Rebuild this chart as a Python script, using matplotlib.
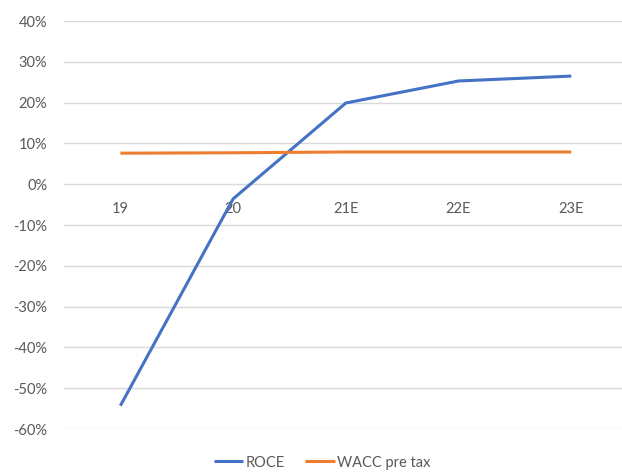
import matplotlib.pyplot as plt
from matplotlib.ticker import PercentFormatter

# ROCE vs. WACC (pre tax), % by year
years = ['19', '20', '21E', '22E', '23E']
roce = [-54.3, -3.6, 19.9, 25.3, 26.5]
wacc = [7.6, 7.7, 7.9, 7.9, 7.9]

plt.rcParams['font.family'] = ['Lato', 'DejaVu Sans']
plt.rcParams['axes.unicode_minus'] = False
text_color = '#595959'

fig = plt.figure(figsize=(6.22, 4.72), dpi=100)
ax = fig.add_axes([64 / 622, 43 / 472, 558 / 622, 408 / 472])

x = range(len(years))
ax.plot(x, roce, color='#4472C4', linewidth=2.2, label='ROCE',
        solid_capstyle='butt', solid_joinstyle='miter')
ax.plot(x, wacc, color='#ED7D31', linewidth=2.2, label='WACC pre tax',
        solid_capstyle='butt')

ax.set_ylim(-60, 40)
ax.set_xlim(-0.5, 4.45)
ax.set_yticks(range(-60, 41, 10))
ax.yaxis.set_major_formatter(PercentFormatter(decimals=0))
ax.grid(axis='y', color='#d9d9d9', linewidth=1)
ax.set_axisbelow(True)

# category labels sit next to the zero line
ax.spines['bottom'].set_position(('data', 0))
for side in ['top', 'right', 'left', 'bottom']:
    ax.spines[side].set_visible(False)
ax.set_xticks(list(x))
ax.set_xticklabels(years)
ax.tick_params(axis='x', length=0, pad=13, labelsize=10.5, labelcolor=text_color)
ax.tick_params(axis='y', length=0, pad=12, labelsize=10.5, labelcolor=text_color)

fig.legend(loc='center', bbox_to_anchor=(0.518, 0.02), ncol=2, frameon=False,
           fontsize=10.5, handlelength=2.0, handletextpad=0.2,
           columnspacing=1.4, labelcolor=text_color)

fig.savefig('out.png', dpi=100)
